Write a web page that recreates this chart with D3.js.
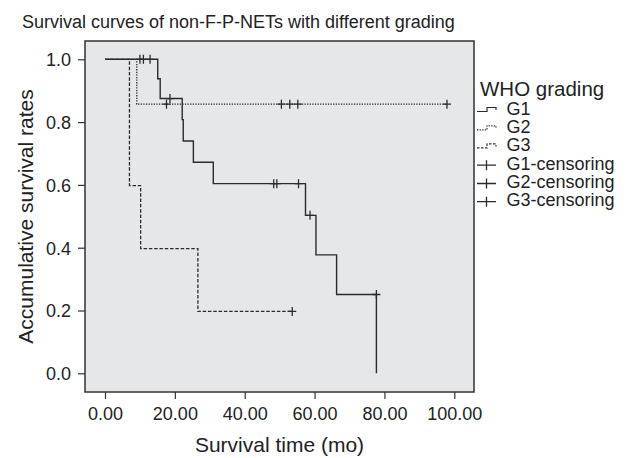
<!DOCTYPE html>
<html><head><meta charset="utf-8">
<script src="https://cdn.jsdelivr.net/npm/d3@7"></script>
<style>
html,body{margin:0;padding:0;background:#fff;}
text{font-family:"Liberation Sans",Arial,Helvetica,sans-serif;fill:#222;}
</style></head>
<body>
<svg id="c" width="630" height="458"></svg>
<script>
// ---- data ----
const xTicks = [0, 20, 40, 60, 80, 100];
const yTicks = [0, 0.2, 0.4, 0.6, 0.8, 1.0];
const legendLabels = ["G1", "G2", "G3", "G1-censoring", "G2-censoring", "G3-censoring"];

const g1EventTimes = [15.1, 15.8, 22.1, 22.4, 25.3, 31.0, 57.4, 60.4, 66.3, 77.7];
const g1Survival   = [0.938, 0.875, 0.808, 0.740, 0.672, 0.604, 0.503, 0.377, 0.251, 0];
const g1Censored   = [10.0, 11.0, 12.9, 18.6, 48.3, 49.2, 55.4, 58.7, 77.7];
const g1End = 77.7;

const g2EventTimes = [9.1];
const g2Survival   = [0.857];
const g2Censored   = [17.6, 50.5, 52.9, 55.2, 97.9];
const g2End = 97.9;

const g3EventTimes = [7.0, 10.2, 26.6];
const g3Survival   = [0.598, 0.397, 0.197];
const g3Censored   = [53.6];
const g3End = 53.6;

// ---- layout ----
const svg = d3.select("#c");
const plot = {left: 85, right: 474, top: 41, bottom: 392};
const x = d3.scaleLinear().domain([0, 100]).range([105, 454.3]);
const y = d3.scaleLinear().domain([0, 1]).range([373.3, 59.3]);
const ink = "#2b2b2b";

svg.append("rect")
  .attr("x", plot.left).attr("y", plot.top)
  .attr("width", plot.right - plot.left).attr("height", plot.bottom - plot.top)
  .attr("fill", "#e6e7e9").attr("stroke", "#333").attr("stroke-width", 1.5);

// axes
const xAxis = svg.append("g").attr("transform", `translate(0,${plot.bottom})`)
  .call(d3.axisBottom(x).tickValues(xTicks).tickFormat(d3.format(".2f")).tickSize(7).tickSizeOuter(0));
xAxis.select(".domain").remove();
xAxis.selectAll("line").attr("stroke", "#333").attr("stroke-width", 1.2);
xAxis.selectAll("text").attr("font-size", 18).attr("dy", "0.71em").attr("y", 15)
  .attr("font-family", "Liberation Sans, Arial, sans-serif").attr("fill", "#222");

const yAxis = svg.append("g").attr("transform", `translate(${plot.left},0)`)
  .call(d3.axisLeft(y).tickValues(yTicks).tickFormat(d3.format(".1f")).tickSize(7).tickSizeOuter(0));
yAxis.select(".domain").remove();
yAxis.selectAll("line").attr("stroke", "#333").attr("stroke-width", 1.2);
yAxis.selectAll("text").attr("font-size", 18).attr("x", -14).attr("dy", "0.35em")
  .attr("font-family", "Liberation Sans, Arial, sans-serif").attr("fill", "#222");

// titles
svg.append("text").attr("x", 22).attr("y", 28).attr("font-size", 18)
  .text("Survival curves of non-F-P-NETs with different grading");
svg.append("text").attr("x", (plot.left + plot.right) / 2).attr("y", 452)
  .attr("text-anchor", "middle").attr("font-size", 21).text("Survival time (mo)");
svg.append("text").attr("transform", `translate(33,${(plot.top + plot.bottom) / 2}) rotate(-90)`)
  .attr("text-anchor", "middle").attr("font-size", 21).text("Accumulative survival rates");

// curves
const groups = [
  {t: g1EventTimes, s: g1Survival, c: g1Censored, end: g1End, dash: null, w: 1.4},
  {t: g2EventTimes, s: g2Survival, c: g2Censored, end: g2End, dash: "1.3,1.3", w: 1.3},
  {t: g3EventTimes, s: g3Survival, c: g3Censored, end: g3End, dash: "3.5,1.8", w: 1.3}
];
const line = d3.line().x(d => x(d[0])).y(d => y(d[1])).curve(d3.curveStepAfter);
function survAt(g, t) {
  let s = 1;
  g.t.forEach((et, i) => { if (et < t) s = g.s[i]; });
  return s;
}
groups.forEach(g => {
  const pts = [[0, 1]];
  g.t.forEach((t, i) => pts.push([t, g.s[i]]));
  const last = pts[pts.length - 1];
  if (g.end > last[0]) pts.push([g.end, last[1]]);
  svg.append("path").attr("d", line(pts)).attr("fill", "none")
    .attr("stroke", ink).attr("stroke-width", g.w)
    .attr("stroke-dasharray", g.dash);
  g.c.forEach(ct => {
    const cx = x(ct), cy = y(survAt(g, ct));
    svg.append("path").attr("d", `M${cx - 4},${cy}H${cx + 4}M${cx},${cy - 4.5}V${cy + 4.5}`)
      .attr("stroke", ink).attr("stroke-width", 1.3).attr("fill", "none");
  });
});

// legend
svg.append("text").attr("x", 480).attr("y", 96).attr("font-size", 20.5).text("WHO grading");
const legY = [115, 133.3, 151.4, 169.7, 188, 206.2];
const dashes = [null, "1.3,1.3", "2.5,1.5"];
legendLabels.forEach((lab, i) => {
  const by = legY[i];
  if (i < 3) {
    svg.append("path")
      .attr("d", `M477,${by - 3.5}H487V${by - 7.5}H496V${by - 5}`)
      .attr("fill", "none").attr("stroke", ink).attr("stroke-width", 1.2)
      .attr("stroke-dasharray", dashes[i]);
  } else {
    const cy = by - 4.5;
    svg.append("path").attr("d", `M477,${cy}H496M486.5,${cy - 5}V${cy + 5}`)
      .attr("fill", "none").attr("stroke", ink).attr("stroke-width", 1.3);
  }
  svg.append("text").attr("x", 506.5).attr("y", by).attr("font-size", 18).text(lab);
});
</script>
</body></html>
